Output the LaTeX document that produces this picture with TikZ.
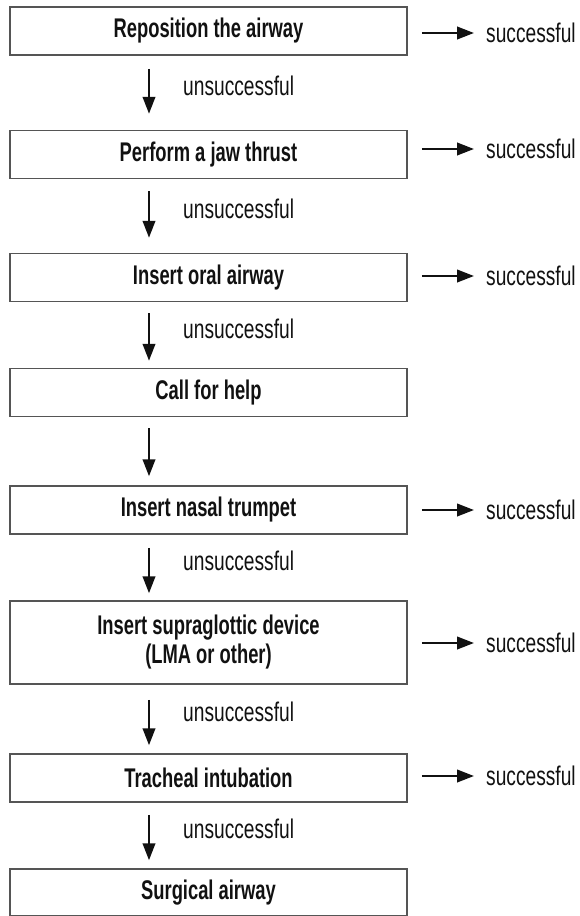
\documentclass[tikz,border=0pt]{standalone}
\usepackage{fontspec}
\setmainfont{Liberation Sans}
\newfontfamily\boxfont{Liberation Sans}[FakeStretch=0.68]
\newfontfamily\labfont{Liberation Sans}[FakeStretch=0.71]
\usetikzlibrary{arrows.meta}
\definecolor{ink}{HTML}{111111}
\definecolor{frame}{HTML}{555555}
\tikzset{
  stepbox/.style={draw=frame, line width=1.5pt, rectangle, minimum width=397pt,
    minimum height=48pt, inner sep=0pt, align=center, text=ink,
    font=\boxfont\bfseries\fontsize{27}{30}\selectfont},
  lab/.style={inner sep=0pt, text=ink, font=\labfont\fontsize{27}{30}\selectfont},
  flow/.style={draw=ink, line width=2.4pt,
    -{Triangle[length=17pt,width=12.5pt]}},
}
\begin{document}
\begin{tikzpicture}[x=1pt, y=-1pt]
\useasboundingbox (0,0) rectangle (580,916);

% procedure steps
\node[stepbox] (b1) at (208.5,31) {Reposition the airway};
\node[stepbox] (b2) at (208.5,154.5) {Perform a jaw thrust};
\node[stepbox] (b3) at (208.5,277.5) {Insert oral airway};
\node[stepbox] (b4) at (208.5,392.5) {Call for help};
\node[stepbox] (b5) at (208.5,510) {Insert nasal trumpet};
\node[stepbox, minimum height=83pt] (b6) at (208.5,642.5)
  {Insert supraglottic device\\[-1pt](LMA or other)};
\node[stepbox] (b7) at (208.5,778) {Tracheal intubation};
\node[stepbox, minimum height=47pt] (b8) at (208.5,892.5) {Surgical airway};

% outcome labels on the right
\node[lab, anchor=west] (s1) at (486,33) {successful};
\node[lab, anchor=west] (s2) at (486,149) {successful};
\node[lab, anchor=west] (s3) at (486,276) {successful};
\node[lab, anchor=west] (s5) at (486,510) {successful};
\node[lab, anchor=west] (s6) at (486,643) {successful};
\node[lab, anchor=west] (s7) at (486,776) {successful};

\foreach \b/\s in {b1/s1, b2/s2, b3/s3, b5/s5, b6/s6, b7/s7}
  \draw[flow, shorten <=14pt, shorten >=12pt] (\b.east |- \s.west) -- (\s.west);

% downward steps
\draw[flow, shorten <=13pt, shorten >=16pt]
  ([xshift=-59.5pt]b1.south) -- ([xshift=-59.5pt]b2.north)
  node[lab, pos=0.4, anchor=west, xshift=33pt] {unsuccessful};
\draw[flow, shorten <=12pt, shorten >=15pt]
  ([xshift=-59.5pt]b2.south) -- ([xshift=-59.5pt]b3.north)
  node[lab, pos=0.4, anchor=west, xshift=33pt] {unsuccessful};
\draw[flow, shorten <=11pt, shorten >=7pt]
  ([xshift=-59.5pt]b3.south) -- ([xshift=-59.5pt]b4.north)
  node[lab, pos=0.4, anchor=west, xshift=33pt] {unsuccessful};
\draw[flow, shorten <=11pt, shorten >=9pt]
  ([xshift=-59.5pt]b4.south) -- ([xshift=-59.5pt]b5.north);
\draw[flow, shorten <=13pt, shorten >=7pt]
  ([xshift=-59.5pt]b5.south) -- ([xshift=-59.5pt]b6.north)
  node[lab, pos=0.4, anchor=west, xshift=33pt] {unsuccessful};
\draw[flow, shorten <=15pt, shorten >=8pt]
  ([xshift=-59.5pt]b6.south) -- ([xshift=-59.5pt]b7.north)
  node[lab, pos=0.4, anchor=west, xshift=33pt] {unsuccessful};
\draw[flow, shorten <=12pt, shorten >=8pt]
  ([xshift=-59.5pt]b7.south) -- ([xshift=-59.5pt]b8.north)
  node[lab, pos=0.4, anchor=west, xshift=33pt] {unsuccessful};
\end{tikzpicture}
\end{document}
